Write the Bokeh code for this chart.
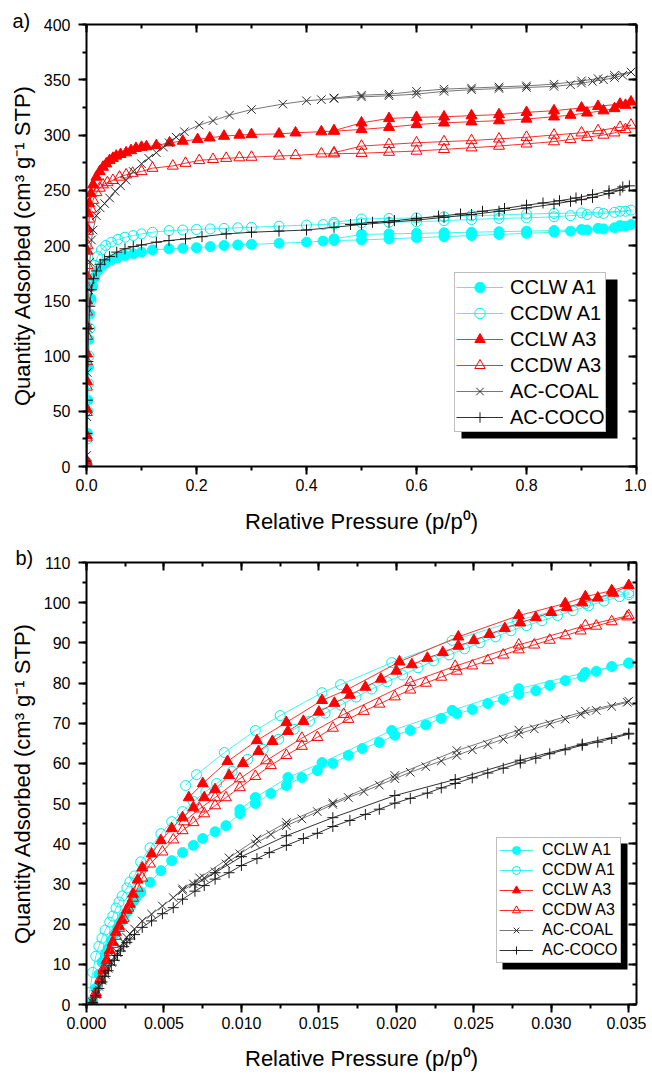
from bokeh.plotting import figure
from bokeh.models import (LinearAxis, SingleIntervalTicker, NumeralTickFormatter,
                          Legend, LegendItem, BoxAnnotation, Title, Range1d)
from bokeh.layouts import column
from bokeh.embed import file_html
from bokeh.resources import INLINE

FONT = "Liberation Sans"

SERIES = ["CCLW A1", "CCDW A1", "CCLW A3", "CCDW A3", "AC-COAL", "AC-COCO"]

# ------------------------------------------------------------------ a) full isotherms
a_cclw_a1_ads_p = [0.0004, 0.0015, 0.0025, 0.0035, 0.0045, 0.006, 0.008, 0.011, 0.015, 0.02, 0.027, 0.035, 0.045, 0.057, 0.07, 0.085, 0.10, 0.12, 0.15, 0.175, 0.20, 0.225, 0.25, 0.275, 0.30, 0.35, 0.40, 0.43, 0.45, 0.50, 0.55, 0.60, 0.65, 0.70, 0.75, 0.80, 0.85, 0.88, 0.91, 0.94, 0.96, 0.98, 0.99]
a_cclw_a1_ads_q = [2, 30, 60, 90, 115, 138, 152, 163, 171, 177, 181, 184, 187, 189, 191, 192.5, 194, 196, 197, 197.5, 198, 199, 200, 200.5, 201, 202, 203, 204, 204.5, 205, 206, 207, 208, 209, 210, 211, 212, 213, 214, 215, 216, 217.5, 219]
a_cclw_a1_des_p = [0.97, 0.93, 0.90, 0.85, 0.80, 0.75, 0.70, 0.65, 0.60, 0.55, 0.50, 0.45]
a_cclw_a1_des_q = [218, 215.5, 214.5, 213.5, 213, 212.5, 212, 211.5, 211, 210.5, 210, 206]

a_ccdw_a1_ads_p = [0.0004, 0.0015, 0.0025, 0.0035, 0.0045, 0.006, 0.008, 0.011, 0.015, 0.02, 0.027, 0.035, 0.045, 0.057, 0.07, 0.085, 0.10, 0.12, 0.15, 0.175, 0.20, 0.225, 0.25, 0.275, 0.30, 0.35, 0.40, 0.43, 0.45, 0.50, 0.55, 0.60, 0.65, 0.70, 0.75, 0.80, 0.85, 0.88, 0.91, 0.94, 0.96, 0.98, 0.99]
a_ccdw_a1_ads_q = [1, 25, 50, 75, 100, 125, 150, 170, 182, 190, 196, 200, 203, 205.5, 207.5, 209, 210.5, 212, 213.5, 214, 214.5, 215, 215.5, 216, 216.5, 217.5, 218.5, 219, 219.5, 220.5, 221, 221.5, 222.5, 223.5, 224.5, 225, 226, 227, 228, 229, 230, 231, 232]
a_ccdw_a1_des_p = [0.97, 0.93, 0.90, 0.85, 0.80, 0.75, 0.70, 0.65, 0.60, 0.55, 0.50, 0.45]
a_ccdw_a1_des_q = [231, 230, 229.5, 229, 228.5, 227.5, 227, 226, 225, 224.5, 224, 221]

a_cclw_a3_ads_p = [0.0002, 0.0004, 0.0006, 0.0008, 0.001, 0.0012, 0.0014, 0.0016, 0.0018, 0.002, 0.003, 0.005, 0.008, 0.012, 0.018, 0.024, 0.030, 0.036, 0.042, 0.048, 0.054, 0.062, 0.072, 0.081, 0.090, 0.100, 0.109, 0.127, 0.151, 0.175, 0.202, 0.224, 0.250, 0.278, 0.300, 0.350, 0.380, 0.427, 0.450, 0.500, 0.550, 0.600, 0.650, 0.700, 0.750, 0.800, 0.850, 0.880, 0.910, 0.940, 0.960, 0.980, 0.990]
a_cclw_a3_ads_q = [5, 28, 52, 77, 102, 127, 150, 172, 195, 215, 229, 238, 247, 255, 262, 267, 271, 274, 277, 279, 281, 282.5, 284, 286, 288, 289, 289.5, 290.5, 293, 294.5, 296, 297.5, 299, 300, 300.5, 301, 302, 303, 303.5, 305, 307, 309.5, 311, 312, 313, 314.5, 316.5, 318, 320, 322, 324, 327, 330]
a_cclw_a3_des_p = [0.97, 0.93, 0.90, 0.85, 0.80, 0.75, 0.70, 0.65, 0.60, 0.55, 0.50, 0.45]
a_cclw_a3_des_q = [328, 326, 324.5, 322, 320.5, 318.5, 317.5, 316.5, 316, 315, 311, 304]

a_ccdw_a3_ads_p = [0.0002, 0.0004, 0.0006, 0.0008, 0.001, 0.0012, 0.0014, 0.0016, 0.0018, 0.002, 0.003, 0.005, 0.008, 0.012, 0.018, 0.024, 0.030, 0.038, 0.048, 0.060, 0.072, 0.084, 0.100, 0.120, 0.157, 0.180, 0.205, 0.230, 0.254, 0.278, 0.300, 0.350, 0.380, 0.427, 0.450, 0.500, 0.550, 0.600, 0.650, 0.700, 0.750, 0.800, 0.850, 0.880, 0.910, 0.940, 0.960, 0.980, 0.990]
a_ccdw_a3_ads_q = [4, 26, 49, 72, 95, 118, 140, 162, 182, 200, 213, 224, 233, 241, 248, 252, 255, 257, 259, 262, 264, 265.5, 267, 270, 272, 274.5, 277, 278, 279, 279.5, 280, 281, 281.5, 283, 283, 283.5, 284.5, 285.5, 287, 288.5, 290, 292, 294, 296, 298, 300, 302, 305, 309]
a_ccdw_a3_des_p = [0.97, 0.93, 0.90, 0.85, 0.80, 0.75, 0.70, 0.65, 0.60, 0.55, 0.50, 0.45]
a_ccdw_a3_des_q = [307, 304, 302, 300, 298, 296.5, 295, 294, 293, 291.5, 290, 284]

a_coal_ads_p = [0.0003, 0.0008, 0.0015, 0.0025, 0.004, 0.006, 0.009, 0.012, 0.018, 0.025, 0.033, 0.042, 0.052, 0.062, 0.072, 0.085, 0.100, 0.113, 0.127, 0.140, 0.150, 0.163, 0.178, 0.205, 0.230, 0.260, 0.300, 0.357, 0.400, 0.427, 0.450, 0.500, 0.550, 0.600, 0.650, 0.700, 0.750, 0.800, 0.850, 0.880, 0.900, 0.920, 0.940, 0.960, 0.975, 0.990]
a_coal_ads_q = [10, 45, 85, 125, 160, 185, 205, 214, 227, 234, 238, 243, 249, 254, 259, 267, 274, 279, 284, 289, 293, 298, 303, 309, 313, 318, 323, 328, 331, 332, 333, 334.5, 335.5, 337, 339.5, 341, 342, 343, 344, 345.5, 347, 348.5, 350, 352, 354, 357]
a_coal_des_p = [0.96, 0.93, 0.90, 0.85, 0.80, 0.75, 0.70, 0.65, 0.60, 0.55, 0.50, 0.45]
a_coal_des_q = [354, 351, 349, 346, 344.5, 343.5, 342.5, 341.5, 339.5, 337, 336, 333.5]

a_coco_ads_p = [0.0003, 0.0008, 0.0015, 0.0025, 0.004, 0.006, 0.009, 0.013, 0.018, 0.025, 0.033, 0.042, 0.055, 0.070, 0.085, 0.100, 0.127, 0.150, 0.180, 0.210, 0.254, 0.300, 0.350, 0.400, 0.450, 0.500, 0.550, 0.600, 0.650, 0.700, 0.750, 0.800, 0.850, 0.880, 0.900, 0.920, 0.950, 0.970, 0.987]
a_coco_ads_q = [5, 30, 60, 95, 125, 145, 160, 170, 177, 183, 187, 190, 194, 197, 199, 200.5, 203, 204.5, 206, 208, 210.5, 212, 213, 214, 216.5, 219, 221, 223, 225.5, 228, 231, 234, 237.5, 240, 241.5, 243.5, 247, 250, 254]
a_coco_des_p = [0.975, 0.95, 0.92, 0.89, 0.86, 0.83, 0.80, 0.76, 0.72, 0.68, 0.64, 0.60, 0.56, 0.52, 0.48]
a_coco_des_q = [253, 249.5, 246, 243, 240.5, 238.5, 236.5, 233.5, 231, 228.5, 226.5, 224.5, 222.5, 221, 219]

# ------------------------------------------------------------------ b) low-pressure region
b_cclw_a1_p = [0.0004, 0.0006, 0.0008, 0.0010, 0.0012, 0.0014, 0.0016, 0.0018, 0.0020, 0.0022, 0.0024, 0.0026, 0.0028, 0.0030, 0.0032, 0.0035, 0.0041, 0.0048, 0.0055, 0.0062, 0.0069, 0.0075, 0.0083, 0.0090, 0.0099, 0.0109, 0.0119, 0.0129, 0.0139, 0.0149, 0.0159, 0.0169, 0.0178, 0.0189, 0.0199, 0.0209, 0.0219, 0.0229, 0.0239, 0.0249, 0.0259, 0.0269, 0.0279, 0.0290, 0.0299, 0.0309, 0.0320, 0.0329, 0.0339, 0.0350]
b_cclw_a1_q = [1, 4, 7.5, 10.5, 12.5, 14, 16, 17.5, 19, 20.5, 22, 23, 24.2, 25.5, 26.6, 27.9, 30.4, 33.3, 35.8, 37.8, 39.6, 41.3, 43, 44.5, 47.5, 50, 52.5, 54.5, 56.5, 58.2, 60, 62, 63.7, 65.2, 67, 68.2, 69.6, 71.2, 72.4, 73.4, 74.9, 75.9, 77.2, 78.1, 79.4, 80.6, 81.6, 82.9, 84.1, 84.9]
b_cclw_a1_ret_p = [0.0350, 0.0322, 0.0279, 0.0236, 0.0197, 0.0152, 0.0130, 0.0109, 0.0099]
b_cclw_a1_ret_q = [85, 82.6, 78.6, 73.2, 68.2, 60.2, 56.5, 51.5, 48.5]

b_ccdw_a1_p = [0.0002, 0.0004, 0.0006, 0.0008, 0.0010, 0.0012, 0.0015, 0.0017, 0.0019, 0.0021, 0.0023, 0.0026, 0.0028, 0.0031, 0.0035, 0.0041, 0.0048, 0.0055, 0.0062, 0.0069, 0.0077, 0.0084, 0.0094, 0.0104, 0.0114, 0.0124, 0.0134, 0.0144, 0.0154, 0.0164, 0.0174, 0.0184, 0.0194, 0.0204, 0.0214, 0.0224, 0.0234, 0.0244, 0.0254, 0.0264, 0.0274, 0.0284, 0.0294, 0.0304, 0.0314, 0.0324, 0.0334, 0.0344, 0.0350]
b_ccdw_a1_q = [3, 8, 12, 14.5, 16.5, 18.5, 20.5, 22, 24, 25.5, 27, 29, 30.5, 32, 35.5, 39, 42.5, 45.5, 48, 50.5, 53, 55, 58, 61, 63.5, 66, 68.5, 70.5, 72.5, 74.5, 76.5, 78.5, 80.3, 82, 83.8, 85.5, 87, 88.5, 90, 91.5, 93, 94.3, 95.5, 96.8, 98, 99.2, 100.4, 101.5, 102]
b_ccdw_a1_ret_p = [0.0350, 0.0322, 0.0278, 0.0236, 0.0197, 0.0164, 0.0152, 0.0125, 0.0109, 0.0089, 0.0071, 0.0064]
b_ccdw_a1_ret_q = [102.5, 99.8, 95.6, 90.6, 85.1, 79.6, 77.6, 71.9, 68.2, 62.7, 57.2, 54.5]

b_cclw_a3_p = [0.0004, 0.0006, 0.0009, 0.0011, 0.0013, 0.0015, 0.0017, 0.0019, 0.0021, 0.0023, 0.0026, 0.0028, 0.0030, 0.0033, 0.0036, 0.0042, 0.0048, 0.0055, 0.0062, 0.0069, 0.0076, 0.0083, 0.0092, 0.0101, 0.0111, 0.0120, 0.0130, 0.0140, 0.0150, 0.0160, 0.0170, 0.0180, 0.0190, 0.0200, 0.0210, 0.0220, 0.0230, 0.0240, 0.0250, 0.0260, 0.0270, 0.0280, 0.0290, 0.0300, 0.0310, 0.0320, 0.0330, 0.0340]
b_cclw_a3_q = [0.5, 2.5, 6, 8.5, 11, 13.5, 15.5, 18, 19.5, 21, 23.5, 25, 27.5, 31, 34, 37.5, 40.8, 43.8, 46.5, 49, 51.5, 53.5, 57, 60, 63, 65.5, 68, 70.5, 72.8, 75, 77, 79, 81, 83, 84.6, 86.2, 87.6, 89.2, 90.6, 92.1, 93.6, 95, 96.3, 97.6, 98.8, 100, 101.2, 102.4]
b_cclw_a3_ret_p = [0.0350, 0.0339, 0.0322, 0.0309, 0.0279, 0.0240, 0.0202, 0.0168, 0.0152, 0.0129, 0.0110, 0.0091, 0.0075, 0.0066]
b_cclw_a3_ret_q = [104.3, 103, 101.5, 99.8, 96.8, 91.5, 85.3, 78.3, 75.7, 70.2, 65.7, 60.5, 55, 51.5]

b_ccdw_a3_p = [0.0004, 0.0006, 0.0009, 0.0011, 0.0013, 0.0015, 0.0017, 0.0019, 0.0021, 0.0024, 0.0027, 0.0030, 0.0033, 0.0036, 0.0041, 0.0049, 0.0056, 0.0062, 0.0069, 0.0076, 0.0083, 0.0090, 0.0099, 0.0109, 0.0119, 0.0129, 0.0139, 0.0149, 0.0159, 0.0169, 0.0179, 0.0189, 0.0199, 0.0209, 0.0219, 0.0229, 0.0239, 0.0249, 0.0259, 0.0269, 0.0279, 0.0289, 0.0299, 0.0309, 0.0319, 0.0329, 0.0339, 0.0349]
b_ccdw_a3_q = [0.5, 3, 6.5, 9, 11, 13, 15, 17, 19, 21.5, 24, 26.5, 29, 31.5, 35, 38, 41, 43.3, 45.3, 47.5, 49.5, 51.5, 54, 56.8, 59.5, 62, 64.3, 66.5, 68.8, 71, 73, 74.8, 76.6, 78.3, 80, 81.5, 83, 84.3, 85.6, 87, 88.3, 89.5, 90.7, 91.8, 93, 94.2, 95.3, 96.5]
b_ccdw_a3_ret_p = [0.0350, 0.0322, 0.0279, 0.0238, 0.0209, 0.0166, 0.0139, 0.0116, 0.0099, 0.0083, 0.0073, 0.0063]
b_ccdw_a3_ret_q = [96.8, 94.3, 89.5, 84.2, 80.2, 72.2, 66.3, 60.7, 56.2, 51.5, 48.7, 45.5]

b_coal_p = [0.0004, 0.0006, 0.0008, 0.0010, 0.0012, 0.0014, 0.0016, 0.0018, 0.0020, 0.0022, 0.0024, 0.0026, 0.0028, 0.0031, 0.0036, 0.0042, 0.0049, 0.0056, 0.0062, 0.0069, 0.0076, 0.0083, 0.0090, 0.0099, 0.0109, 0.0119, 0.0129, 0.0139, 0.0149, 0.0159, 0.0169, 0.0179, 0.0189, 0.0199, 0.0209, 0.0219, 0.0229, 0.0239, 0.0249, 0.0259, 0.0269, 0.0279, 0.0289, 0.0299, 0.0309, 0.0319, 0.0329, 0.0339, 0.0349]
b_coal_q = [0.5, 2.5, 4.5, 6, 7.5, 9, 10.5, 11.8, 13, 14.3, 15.5, 16.7, 17.6, 18.8, 20.8, 22.5, 24.5, 26.6, 28.4, 30, 31.5, 33, 35, 37.5, 40, 42.3, 44.5, 46.2, 48, 49.8, 51.5, 53, 54.6, 56.2, 57.8, 59.2, 60.6, 62, 63.4, 64.7, 66, 67.3, 68.6, 69.8, 71, 72.2, 73.2, 74.2, 75.2]
b_coal_ret_p = [0.0350, 0.0322, 0.0279, 0.0239, 0.0199, 0.0159, 0.0129, 0.0110, 0.0092, 0.0073, 0.0062]
b_coal_ret_q = [75.5, 73, 68.3, 63.2, 57, 50.2, 45.3, 41.2, 36.5, 31.5, 28.8]

b_coco_p = [0.0004, 0.0006, 0.0008, 0.0010, 0.0012, 0.0014, 0.0016, 0.0018, 0.0020, 0.0022, 0.0024, 0.0026, 0.0028, 0.0031, 0.0036, 0.0042, 0.0049, 0.0056, 0.0062, 0.0070, 0.0076, 0.0083, 0.0092, 0.0100, 0.0110, 0.0118, 0.0129, 0.0140, 0.0149, 0.0159, 0.0170, 0.0180, 0.0189, 0.0199, 0.0209, 0.0220, 0.0229, 0.0238, 0.0249, 0.0259, 0.0269, 0.0280, 0.0290, 0.0299, 0.0309, 0.0320, 0.0330, 0.0339, 0.0350]
b_coco_q = [0.5, 2.2, 4, 5.6, 7, 8.4, 9.8, 11, 12.2, 13.3, 14.4, 15.4, 16.3, 17.4, 19.2, 20.8, 22.6, 24.1, 26.2, 28.2, 29.6, 31.2, 32.8, 34.6, 36.3, 37.8, 39.6, 41.3, 42.6, 44.3, 45.8, 47.3, 48.6, 50.1, 51.3, 52.6, 53.9, 55, 56.4, 57.6, 58.8, 60.1, 61.3, 62.4, 63.4, 64.5, 65.3, 66.2, 67.3]
b_coco_ret_p = [0.0350, 0.0320, 0.0280, 0.0238, 0.0199, 0.0159, 0.0129, 0.0100, 0.0083, 0.0070]
b_coco_ret_q = [67.5, 64.8, 60.8, 56, 52, 46.5, 42, 36.8, 32.8, 29.8]

A_DATA = {
    "CCLW A1": (a_cclw_a1_ads_p + a_cclw_a1_des_p, a_cclw_a1_ads_q + a_cclw_a1_des_q),
    "CCDW A1": (a_ccdw_a1_ads_p + a_ccdw_a1_des_p, a_ccdw_a1_ads_q + a_ccdw_a1_des_q),
    "CCLW A3": (a_cclw_a3_ads_p + a_cclw_a3_des_p, a_cclw_a3_ads_q + a_cclw_a3_des_q),
    "CCDW A3": (a_ccdw_a3_ads_p + a_ccdw_a3_des_p, a_ccdw_a3_ads_q + a_ccdw_a3_des_q),
    "AC-COAL": (a_coal_ads_p + a_coal_des_p, a_coal_ads_q + a_coal_des_q),
    "AC-COCO": (a_coco_ads_p + a_coco_des_p, a_coco_ads_q + a_coco_des_q),
}
B_DATA = {
    "CCLW A1": (b_cclw_a1_p + b_cclw_a1_ret_p, b_cclw_a1_q + b_cclw_a1_ret_q),
    "CCDW A1": (b_ccdw_a1_p + b_ccdw_a1_ret_p, b_ccdw_a1_q + b_ccdw_a1_ret_q),
    "CCLW A3": (b_cclw_a3_p + b_cclw_a3_ret_p, b_cclw_a3_q + b_cclw_a3_ret_q),
    "CCDW A3": (b_ccdw_a3_p + b_ccdw_a3_ret_p, b_ccdw_a3_q + b_ccdw_a3_ret_q),
    "AC-COAL": (b_coal_p + b_coal_ret_p, b_coal_q + b_coal_ret_q),
    "AC-COCO": (b_coco_p + b_coco_ret_p, b_coco_q + b_coco_ret_q),
}

STYLE = {
    "CCLW A1": dict(marker="circle", size=10, fill="#00FFFF", color="#00FFFF", line="#40F4F4"),
    "CCDW A1": dict(marker="circle", size=10, fill=None, color="#00F0F0", line="#40F4F4"),
    "CCLW A3": dict(marker="triangle", size=11, fill="#FF0000", color="#FF0000", line="#FF3030"),
    "CCDW A3": dict(marker="triangle", size=11, fill=None, color="#FF0000", line="#FF3030"),
    "AC-COAL": dict(marker="x", size=12, fill=None, color="#2A2A2A", line="#777777"),
    "AC-COCO": dict(marker="cross", size=11, fill=None, color="#1A1A1A", line="#333333"),
}


def build(data, xr, yr, xint, yint, xfmt, tag, borders, title_standoff, leg):
    p = figure(frame_width=550, frame_height=442,
               x_range=Range1d(*xr), y_range=Range1d(*yr),
               output_backend="svg", toolbar_location=None, **borders)
    p.grid.visible = False
    p.outline_line_color = None
    p.border_fill_color = "white"

    xt = SingleIntervalTicker(interval=xint, num_minor_ticks=2)
    yt = SingleIntervalTicker(interval=yint, num_minor_ticks=2)

    common = dict(axis_line_width=2, major_tick_line_width=2, minor_tick_line_width=2,
                  axis_line_color="black", major_tick_line_color="black",
                  minor_tick_line_color="black")

    xa = p.xaxis[0]
    xa.ticker = xt
    xa.formatter = NumeralTickFormatter(format=xfmt)
    xa.update(major_tick_out=8, major_tick_in=0, minor_tick_out=4, minor_tick_in=0,
              major_label_text_font=FONT, major_label_text_font_size="16px",
              major_label_text_color="black", major_label_standoff=4,
              axis_label="Relative Pressure (p/p\u2070)", axis_label_text_font=FONT,
              axis_label_text_font_size="22px", axis_label_text_font_style="normal",
              axis_label_text_color="black", axis_label_standoff=title_standoff, **common)
    ya = p.yaxis[0]
    ya.ticker = yt
    ya.formatter = NumeralTickFormatter(format="0")
    ya.update(major_tick_out=8, major_tick_in=0, minor_tick_out=4, minor_tick_in=0,
              major_label_text_font=FONT, major_label_text_font_size="16px",
              major_label_text_color="black", major_label_standoff=8,
              axis_label="Quantity Adsorbed (cm\u00b3 g\u207b\u00b9 STP)", axis_label_text_font=FONT,
              axis_label_text_font_size="22px", axis_label_text_font_style="normal",
              axis_label_text_color="black", axis_label_standoff=6, **common)

    for side, tk in (("above", xt), ("right", yt)):
        ax = LinearAxis(ticker=tk, major_tick_in=8, major_tick_out=0, minor_tick_in=4,
                        minor_tick_out=0, major_label_text_font_size="0px",
                        major_label_text_color=None, major_label_standoff=0, **common)
        p.add_layout(ax, side)

    # panel tag "a)" / "b)" at the upper-left corner
    p.add_layout(Title(text=tag[0], align="left", offset=tag[1], standoff=tag[2],
                       text_font=FONT, text_font_size="20px", text_font_style="normal",
                       text_color="black", vertical_align="bottom"), "above")

    items = []
    for name in SERIES:
        xs, ys = data[name]
        st = STYLE[name]
        lr = p.line(xs, ys, line_color=st["line"], line_width=1)
        sr = p.scatter(xs, ys, marker=st["marker"], size=st["size"],
                       fill_color=st["fill"], line_color=st["color"], line_width=1)
        items.append(LegendItem(label=name, renderers=[lr, sr]))

    sx0, sy0, sx1, sy1 = leg["shadow"]
    shadow = BoxAnnotation(left=sx0, right=sx1, bottom=sy0, top=sy1,
                           left_units="screen", right_units="screen",
                           top_units="screen", bottom_units="screen",
                           fill_color="black", fill_alpha=1.0, line_color=None)
    p.add_layout(shadow)

    legend = Legend(items=items, location=leg["loc"], orientation="vertical",
                    label_text_font=FONT, label_text_font_size=leg["font"],
                    label_text_color="black",
                    glyph_width=leg["gw"], glyph_height=leg["gh"], label_height=leg["gh"],
                    label_standoff=leg["standoff"], padding=leg["pad"], spacing=0, margin=0,
                    border_line_color="#7F7F7F", border_line_width=1,
                    background_fill_color="white", background_fill_alpha=1.0)
    p.add_layout(legend)
    return p


pa = build(A_DATA, (0, 1), (0, 400), 0.2, 50, "0.0", ("a)", -74, -14),
           dict(min_border_left=86, min_border_right=10, min_border_top=24, min_border_bottom=71),
           15,
           dict(loc=(368, 34), shadow=(375, 28, 531, 187), font="20px", gw=47, gh=26,
                standoff=7, pad=1))
pb = build(B_DATA, (0, 0.0355), (0, 110), 0.005, 10, "0.000", ("b)", -71, -12),
           dict(min_border_left=86, min_border_right=10, min_border_top=25, min_border_bottom=70),
           14,
           dict(loc=(410, 41), shadow=(416, 35, 541, 161), font="16px", gw=34, gh=20,
                standoff=9, pad=2))

layout = column(pa, pb, spacing=0)
open("out.html", "w").write(file_html(layout, INLINE))
